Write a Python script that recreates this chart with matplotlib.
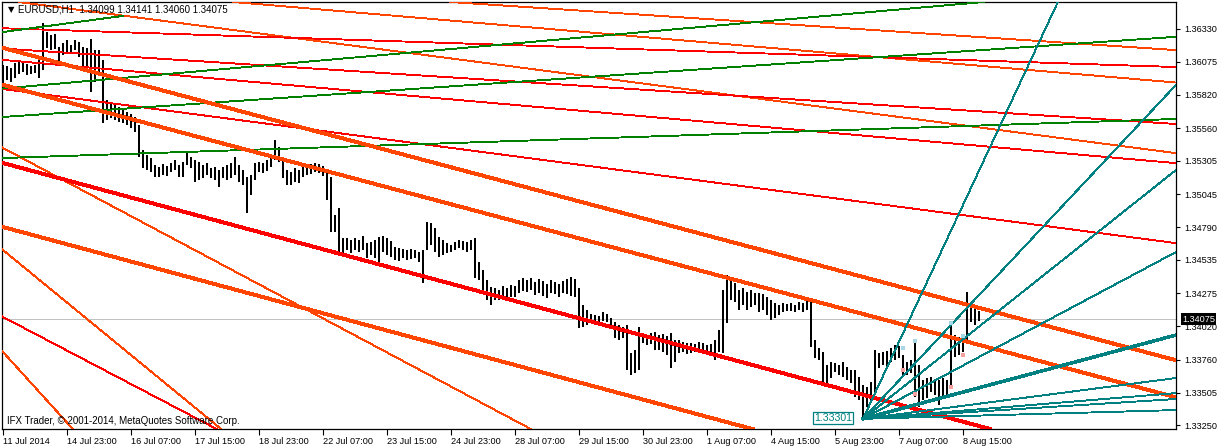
import numpy as np
import matplotlib
matplotlib.use("Agg")
import matplotlib.pyplot as plt
import matplotlib.transforms as mtransforms
from matplotlib import font_manager

# EURUSD H1 chart, bars (one bar per two hours here)
bar_high = [
    1.36050, 1.36042, 1.36027, 1.36065, 1.36073, 1.36081, 1.36058, 1.36042, 1.36050, 1.36089,
    1.36376, 1.36306, 1.36283, 1.36291, 1.36190, 1.36221, 1.36244, 1.36205, 1.36244, 1.36229,
    1.36190, 1.36182, 1.36252, 1.36166, 1.36166, 1.36089, 1.35778, 1.35755, 1.35739, 1.35724,
    1.35700, 1.35685, 1.35669, 1.35646, 1.35584, 1.35389, 1.35351, 1.35327, 1.35273, 1.35257,
    1.35281, 1.35265, 1.35288, 1.35312, 1.35273, 1.35296, 1.35366, 1.35335, 1.35312, 1.35296,
    1.35273, 1.35288, 1.35250, 1.35257, 1.35234, 1.35257, 1.35273, 1.35288, 1.35335, 1.35273,
    1.35234, 1.35180, 1.35195, 1.35288, 1.35296, 1.35288, 1.35312, 1.35351, 1.35467, 1.35413,
    1.35335, 1.35234, 1.35219, 1.35250, 1.35234, 1.35265, 1.35273, 1.35281, 1.35288, 1.35281,
    1.35265, 1.35211, 1.35180, 1.34884, 1.34939, 1.34706, 1.34706, 1.34690, 1.34706, 1.34690,
    1.34721, 1.34667, 1.34675, 1.34690, 1.34714, 1.34721, 1.34706, 1.34682, 1.34636, 1.34628,
    1.34620, 1.34612, 1.34620, 1.34612, 1.34597, 1.34612, 1.34830, 1.34822, 1.34783, 1.34714,
    1.34690, 1.34667, 1.34651, 1.34675, 1.34690, 1.34682, 1.34675, 1.34690, 1.34706, 1.34519,
    1.34457, 1.34379, 1.34325, 1.34317, 1.34302, 1.34333, 1.34317, 1.34341, 1.34333, 1.34379,
    1.34395, 1.34379, 1.34395, 1.34364, 1.34387, 1.34372, 1.34348, 1.34379, 1.34364, 1.34348,
    1.34372, 1.34387, 1.34403, 1.34387, 1.34317, 1.34185, 1.34146, 1.34115, 1.34107, 1.34100,
    1.34131, 1.34115, 1.34084, 1.34053, 1.34030, 1.34014, 1.34030, 1.33812, 1.33835, 1.34014,
    1.33968, 1.33952, 1.33968, 1.33975, 1.33952, 1.33960, 1.33944, 1.33968, 1.33913, 1.33913,
    1.33898, 1.33890, 1.33890, 1.33882, 1.33898, 1.33890, 1.33874, 1.33882, 1.33913, 1.33991,
    1.34302, 1.34418, 1.34379, 1.34356, 1.34302, 1.34317, 1.34286, 1.34302, 1.34278, 1.34278,
    1.34271, 1.34247, 1.34224, 1.34201, 1.34185, 1.34201, 1.34193, 1.34201, 1.34185, 1.34208,
    1.34201, 1.34224, 1.34224, 1.33913, 1.33851, 1.33820, 1.33719, 1.33742, 1.33734, 1.33719,
    1.33742, 1.33703, 1.33680, 1.33680, 1.33626, 1.33564, 1.33548, 1.33587, 1.33835, 1.33812,
    1.33820, 1.33828, 1.33851, 1.33874, 1.33867, 1.33797, 1.33742, 1.33758, 1.33898, 1.33719,
    1.33602, 1.33618, 1.33626, 1.33602, 1.33602, 1.33618, 1.33602, 1.34045, 1.33952, 1.33937,
    1.33929, 1.34286, 1.34185, 1.34162, 1.34141,
]
bar_low = [
    1.35910, 1.35933, 1.35918, 1.35949, 1.35980, 1.35996, 1.35972, 1.35980, 1.35988, 1.35949,
    1.36011, 1.36182, 1.36166, 1.36174, 1.36065, 1.36128, 1.36151, 1.36143, 1.36166, 1.36112,
    1.36011, 1.36034, 1.35840, 1.35918, 1.35972, 1.35599, 1.35623, 1.35638, 1.35623, 1.35607,
    1.35599, 1.35584, 1.35560, 1.35529, 1.35335, 1.35250, 1.35234, 1.35219, 1.35180, 1.35180,
    1.35195, 1.35187, 1.35219, 1.35234, 1.35180, 1.35180, 1.35273, 1.35250, 1.35141, 1.35156,
    1.35172, 1.35195, 1.35172, 1.35156, 1.35102, 1.35172, 1.35156, 1.35172, 1.35195, 1.35141,
    1.35118, 1.34900, 1.35040, 1.35156, 1.35219, 1.35211, 1.35226, 1.35257, 1.35312, 1.35296,
    1.35172, 1.35118, 1.35118, 1.35141, 1.35133, 1.35180, 1.35195, 1.35203, 1.35219, 1.35211,
    1.35187, 1.35001, 1.34752, 1.34752, 1.34574, 1.34589, 1.34612, 1.34589, 1.34612, 1.34597,
    1.34612, 1.34550, 1.34574, 1.34550, 1.34519, 1.34597, 1.34574, 1.34558, 1.34535, 1.34527,
    1.34550, 1.34535, 1.34543, 1.34550, 1.34519, 1.34356, 1.34612, 1.34651, 1.34597, 1.34558,
    1.34574, 1.34589, 1.34597, 1.34612, 1.34628, 1.34612, 1.34597, 1.34612, 1.34395, 1.34379,
    1.34286, 1.34224, 1.34185, 1.34224, 1.34224, 1.34240, 1.34232, 1.34247, 1.34247, 1.34278,
    1.34294, 1.34286, 1.34302, 1.34263, 1.34278, 1.34255, 1.34240, 1.34278, 1.34271, 1.34247,
    1.34278, 1.34271, 1.34255, 1.34247, 1.34006, 1.34014, 1.34030, 1.34045, 1.34053, 1.34038,
    1.34061, 1.34053, 1.34022, 1.33929, 1.33913, 1.33929, 1.33680, 1.33641, 1.33657, 1.33680,
    1.33890, 1.33874, 1.33882, 1.33835, 1.33835, 1.33820, 1.33797, 1.33696, 1.33742, 1.33812,
    1.33820, 1.33804, 1.33812, 1.33820, 1.33828, 1.33804, 1.33797, 1.33789, 1.33758, 1.33820,
    1.33812, 1.34045, 1.34224, 1.34208, 1.34146, 1.34185, 1.34146, 1.34170, 1.34185, 1.34131,
    1.34146, 1.34107, 1.34069, 1.34084, 1.34107, 1.34131, 1.34139, 1.34139, 1.34131, 1.34146,
    1.34131, 1.34146, 1.33859, 1.33773, 1.33758, 1.33564, 1.33579, 1.33618, 1.33665, 1.33641,
    1.33626, 1.33602, 1.33579, 1.33470, 1.33447, 1.33301, 1.33393, 1.33424, 1.33501, 1.33696,
    1.33719, 1.33696, 1.33742, 1.33758, 1.33773, 1.33626, 1.33641, 1.33657, 1.33470, 1.33393,
    1.33447, 1.33463, 1.33509, 1.33486, 1.33408, 1.33470, 1.33486, 1.33548, 1.33781, 1.33797,
    1.33820, 1.33913, 1.34053, 1.34030, 1.34060,
]

time_labels = ["11 Jul 2014", "14 Jul 23:00", "16 Jul 07:00", "17 Jul 15:00", "18 Jul 23:00",
               "22 Jul 07:00", "23 Jul 15:00", "24 Jul 23:00", "28 Jul 07:00", "29 Jul 15:00",
               "30 Jul 23:00", "1 Aug 07:00", "4 Aug 15:00", "5 Aug 23:00", "7 Aug 07:00",
               "8 Aug 15:00"]
price_ticks = [1.33250, 1.33505, 1.33760, 1.34020, 1.34275, 1.34535, 1.34790,
               1.35045, 1.35305, 1.35560, 1.35820, 1.36075, 1.36330]
last_price = 1.34075
ohlc_last = (1.34099, 1.34141, 1.34060, 1.34075)

# trendlines: (bar1, price1, bar2, price2)
channel_orange = [(0, 1.36182, 293, 1.33758), (0, 1.35895, 293, 1.33470), (0, 1.34791, 293, 1.32337)]
channel_red = [(0, 1.35288, 293, 1.32835)]
red_thin = [(0, 1.36335, 293, 1.36034), (0, 1.36177, 293, 1.35592), (0, 1.36089, 293, 1.35288),
            (0, 1.35863, 293, 1.34667), (0, 1.34092, 52.5, 1.33237)]
green_thin = [(0, 1.35867, 293, 1.36670), (0, 1.35646, 293, 1.36268), (0, 1.35327, 293, 1.35630)]
green_segment = (0, 1.36306, 30, 1.36431)
orange_thin = [(0, 1.36769, 293, 1.36166), (0, 1.36692, 293, 1.35914), (0, 1.36555, 293, 1.35366),
               (0, 1.35405, 104.25, 1.33680), (0, 1.34612, 54.25, 1.33229), (0, 1.33820, 17.25, 1.33229)]

# Gann fan from the 1.33301 low
fan_origin = (215, 1.33301)
fan_points = [(263.5, 1.36524), (293.25, 1.35895), (293.25, 1.35234), (293.25, 1.34597),
              (293.25, 1.33952), (293.25, 1.33618), (293.25, 1.33501), (293.25, 1.33455),
              (293.25, 1.33369)]
fan_thick = 4

# small fractal marks near the end
frac_up_bars = [225, 228, 237, 240]
frac_up = [1.33851, 1.33905, 1.34045, 1.33944]
frac_dn_bars = [225, 228, 237, 240]
frac_dn = [1.33680, 1.33494, 1.33548, 1.33797]

names = {f.name for f in font_manager.fontManager.ttflist}
label_font = "Liberation Sans Narrow" if "Liberation Sans Narrow" in names else "Liberation Sans"
plt.rcParams["font.family"] = [label_font, "DejaVu Sans"]
fs = 7.8 if label_font == "Liberation Sans Narrow" else 6.6

W, H = 1219, 447
fig = plt.figure(figsize=(W / 100, H / 100), dpi=100)
fig.patch.set_facecolor("white")
ax = fig.add_axes([2 / W, (H - 429) / H, 1174 / W, 427 / H])
ax.set_xlim(-0.25, 293.25)
ax.set_ylim(1.33222, 1.36539)

ax.axhline(last_price, color="#c0c0c0", lw=0.7, zorder=1)

bars = np.arange(len(bar_high))
ax.vlines(bars, bar_low, bar_high, color="black", lw=1.4, zorder=2, antialiased=False)

thin = 0.65

def draw_lines(lines, color, lw):
    for k1, p1, k2, p2 in lines:
        ax.axline((k1, p1), (k2, p2), color=color, lw=lw, zorder=3, antialiased=False)

draw_lines(orange_thin, "#ff4500", thin)
draw_lines(red_thin, "#ff0000", thin)
draw_lines(green_thin, "#008000", thin)
ax.plot(green_segment[0::2], green_segment[1::2], color="#008000", lw=thin, zorder=3, antialiased=False)
draw_lines(channel_orange, "#ff4500", 2.1)
draw_lines(channel_red, "#ff0000", 2.1)

ox, oy = fan_origin
for i, (fx, fy) in enumerate(fan_points):
    ex = ox + 6 * (fx - ox)
    ey = oy + 6 * (fy - oy)
    ax.plot([ox, ex], [oy, ey], color="#008080", lw=1.8 if i == fan_thick else thin,
            zorder=4, antialiased=False)

ax.scatter(frac_up_bars, frac_up, s=5, marker="s", color="#a8d8e8", zorder=5, linewidths=0)
ax.scatter(frac_dn_bars, frac_dn, s=5, marker="s", color="#f4a0a0", zorder=5, linewidths=0)

ax.text(212.3, fan_origin[1] + 0.00005, "%.5f" % fan_origin[1], color="#008080", fontsize=fs + 1,
        ha="right", va="center", zorder=6,
        bbox=dict(boxstyle="square,pad=0.12", fc="white", ec="#008080", lw=0.9))

# axes look
for s in ax.spines.values():
    s.set_color("black")
    s.set_linewidth(0.9)
ax.set_xticks(np.arange(0, 16 * len(time_labels), 16))
ax.set_xticklabels(time_labels, ha="left")
ax.tick_params(axis="x", length=4, width=0.8, pad=2, labelsize=fs, direction="out")
ax.yaxis.tick_right()
ax.set_yticks(price_ticks)
ax.set_yticklabels(["%.5f" % p for p in price_ticks])
ax.tick_params(axis="y", length=3, width=0.8, pad=3, labelsize=fs, direction="out")

trans = mtransforms.blended_transform_factory(ax.transAxes, ax.transData)
ax.text(1.0 + 6 / 1174, last_price, "%.5f" % last_price, transform=trans, color="white",
        fontsize=fs, ha="left", va="center", zorder=10, clip_on=False,
        bbox=dict(boxstyle="square,pad=0.15", fc="black", ec="none"))

fig.text(8 / W, 1 - 10 / H, "\u25bc", fontsize=6, va="center", ha="left", family="DejaVu Sans")
fig.text(18 / W, 1 - 10 / H, "EURUSD,H1  %.5f %.5f %.5f %.5f" % ohlc_last,
         fontsize=fs + 0.4, va="center", ha="left")
fig.text(7 / W, 1 - 421 / H, "IFX Trader, \u00a9 2001-2014, MetaQuotes Software Corp.",
         fontsize=fs + 0.4, va="center", ha="left")

fig.savefig("out.png", dpi=100)
